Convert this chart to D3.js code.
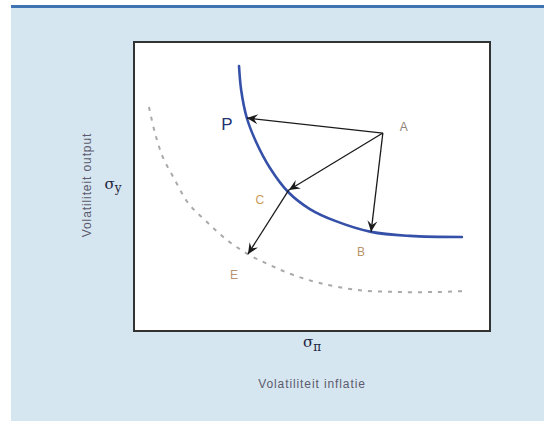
<!DOCTYPE html>
<html>
<head>
<meta charset="utf-8">
<script src="https://cdn.jsdelivr.net/npm/d3@7/dist/d3.min.js"></script>
<style>
  html, body { margin: 0; padding: 0; background: #fff; }
  svg { display: block; }
</style>
</head>
<body>
<svg id="chart" width="544" height="421"></svg>
<script>
// Indifference curve (policy frontier) in volatility space: sigma_pi vs sigma_y
const frontierX = [29.5, 30.1, 31.7, 34.3, 38.2, 43.3, 49.4, 56.5, 66.6, 77.5, 92.1];
const frontierY = [91.7, 83.4, 73.7, 65.4, 56.4, 48.1, 42.2, 38.1, 34.3, 32.9, 32.5];

// Improved (lower) frontier, dashed
const lowerX = [4.2, 5.9, 8.1, 11.5, 15.2, 20.5, 26.1, 32.0, 38.2, 44.7, 52.2, 62.6, 73.9, 85.1, 92.4];
const lowerY = [77.5, 68.5, 60.2, 52.2, 44.3, 37.7, 31.5, 26.6, 22.8, 19.4, 16.6, 14.2, 13.5, 13.5, 13.8];

// Labelled points
const pointNames = ["A", "P", "C", "B", "E"];
const pointX = [69.9, 31.7, 43.5, 66.6, 32.0];
const pointY = [68.5, 73.7, 48.8, 34.3, 26.6];

// Moves between points
const arrowFrom = ["A", "A", "A", "C"];
const arrowTo   = ["P", "C", "B", "E"];

const xTitle = "Volatiliteit inflatie";
const yTitle = "Volatiliteit output";

const svg = d3.select("#chart");
const W = 544, H = 421;

// background panel
svg.append("rect").attr("x", 11).attr("y", 6).attr("width", W - 11).attr("height", H - 6)
  .attr("fill", "#d6e6f0");
svg.append("rect").attr("x", 11).attr("y", 5).attr("width", W - 11).attr("height", 3)
  .attr("fill", "#3f74b3");

// plot box
const box = { left: 134, right: 490, top: 42, bottom: 331 };
svg.append("rect")
  .attr("x", box.left).attr("y", box.top)
  .attr("width", box.right - box.left).attr("height", box.bottom - box.top)
  .attr("fill", "#fff").attr("stroke", "#333").attr("stroke-width", 2);

const x = d3.scaleLinear().domain([0, 100]).range([box.left, box.right]);
const y = d3.scaleLinear().domain([0, 100]).range([box.bottom, box.top]);

const line = d3.line().x(d => x(d[0])).y(d => y(d[1])).curve(d3.curveCatmullRom.alpha(0.5));

// dashed lower frontier
svg.append("path")
  .datum(d3.zip(lowerX, lowerY))
  .attr("d", line)
  .attr("fill", "none")
  .attr("stroke", "#a9a9a9")
  .attr("stroke-width", 2)
  .attr("stroke-dasharray", "4,6");

// main frontier
svg.append("path")
  .datum(d3.zip(frontierX, frontierY))
  .attr("d", line)
  .attr("fill", "none")
  .attr("stroke", "#3550a8")
  .attr("stroke-width", 2.6)
  .attr("stroke-linecap", "round");

// arrowhead
svg.append("defs").append("marker")
  .attr("id", "head")
  .attr("viewBox", "-12 -6 14 12")
  .attr("markerUnits", "userSpaceOnUse")
  .attr("markerWidth", 14).attr("markerHeight", 12)
  .attr("refX", 0).attr("refY", 0)
  .attr("orient", "auto")
  .append("path")
  .attr("d", "M0,0 L-11,-5 L-7,0 L-11,5 Z")
  .attr("fill", "#1a1a1a");

const pos = {};
pointNames.forEach((n, i) => { pos[n] = [pointX[i], pointY[i]]; });

svg.append("g").selectAll("line")
  .data(d3.zip(arrowFrom, arrowTo))
  .join("line")
  .attr("x1", d => x(pos[d[0]][0]))
  .attr("y1", d => y(pos[d[0]][1]))
  .attr("x2", d => x(pos[d[1]][0]))
  .attr("y2", d => y(pos[d[1]][1]))
  .attr("stroke", "#1a1a1a")
  .attr("stroke-width", 1.3)
  .attr("marker-end", "url(#head)");

// point labels
const labelStyle = {
  A: { dx: 21, dy: -2, color: "#8d8379", size: 12 },
  P: { dx: -20, dy: 12, color: "#23336f", size: 17 },
  C: { dx: -29, dy: 14, color: "#c99a5a", size: 12 },
  B: { dx: -10, dy: 24, color: "#b99468", size: 12 },
  E: { dx: -14, dy: 25, color: "#b89474", size: 12 }
};
svg.append("g").selectAll("text")
  .data(pointNames)
  .join("text")
  .attr("x", n => x(pos[n][0]) + labelStyle[n].dx)
  .attr("y", n => y(pos[n][1]) + labelStyle[n].dy)
  .attr("text-anchor", "middle")
  .attr("font-family", "'Liberation Sans', Arial, sans-serif")
  .attr("font-size", n => labelStyle[n].size)
  .attr("fill", n => labelStyle[n].color)
  .text(n => n);

// axis symbols
const sx = svg.append("text")
  .attr("x", 312).attr("y", 347)
  .attr("text-anchor", "middle")
  .attr("font-family", "'DejaVu Serif', 'Liberation Serif', serif")
  .attr("font-size", 15)
  .attr("fill", "#1e2540");
sx.append("tspan").text("σ");
sx.append("tspan").attr("font-size", 12).attr("dy", 4).text("π");

const sy = svg.append("text")
  .attr("x", 113).attr("y", 189)
  .attr("text-anchor", "middle")
  .attr("font-family", "'DejaVu Serif', 'Liberation Serif', serif")
  .attr("font-size", 15)
  .attr("fill", "#1e2540");
sy.append("tspan").text("σ");
sy.append("tspan").attr("font-size", 12).attr("dy", 3).text("y");

// axis titles
svg.append("text")
  .attr("x", 312).attr("y", 388)
  .attr("text-anchor", "middle")
  .attr("font-family", "'Liberation Sans', Arial, sans-serif")
  .attr("font-size", 12)
  .attr("letter-spacing", 0.9)
  .attr("fill", "#5c5a6e")
  .text(xTitle);

svg.append("text")
  .attr("transform", "translate(91,185) rotate(-90)")
  .attr("text-anchor", "middle")
  .attr("font-family", "'Liberation Sans', Arial, sans-serif")
  .attr("font-size", 12)
  .attr("letter-spacing", 0.9)
  .attr("fill", "#5c5a6e")
  .text(yTitle);
</script>
</body>
</html>
